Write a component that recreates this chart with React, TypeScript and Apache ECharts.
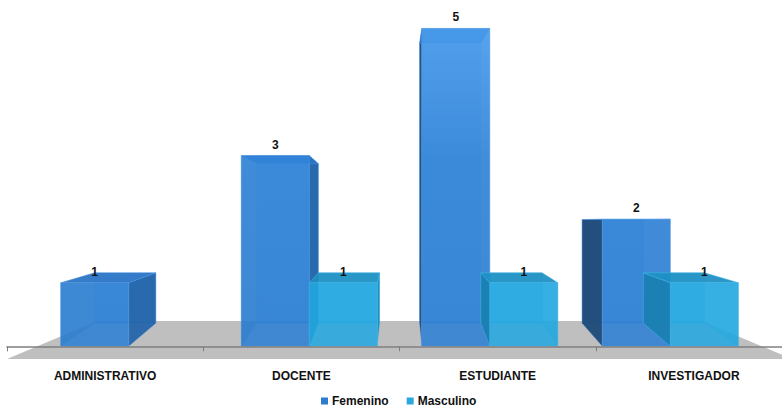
import React, { useEffect, useRef } from "react";
import * as echarts from "echarts";

const categories = ["ADMINISTRATIVO", "DOCENTE", "ESTUDIANTE", "INVESTIGADOR"];
const femenino = [1, 3, 5, 2];
const masculino = [0, 1, 1, 1];
const seriesNames = ["Femenino", "Masculino"];

const FONT = '"Liberation Sans", Arial, sans-serif';
const VX = 400; // horizontal vanishing x (pixels)

const femColors = {
  legend: "#2e7bcc",
  back: "#2a74c4",
  right: "#2465aa",
  left: "#1e4a78",
  top: "#2a74c6",
  edge: "rgba(90,160,235,0.7)",
};
const mascColors = {
  legend: "#2aa7df",
  back: "#1e9ad0",
  right: "#1b8bbd",
  left: "#1a7fb2",
  top: "#1e90c3",
  edge: "rgba(80,190,240,0.7)",
};

function dyf(h: number) {
  return -23 + 0.2277 * h - 0.00034 * h * h;
}

function makeRender(side: number, colors: any, frontFill: any) {
  return function (params: any, api: any) {
    const idx = api.value(0);
    const v = api.value(1);
    if (!v) return { type: "group", children: [] };
    const base = api.coord([idx, 0]);
    const topP = api.coord([idx, v]);
    const band = api.size([1, 0])[0];
    const w = band * 0.377;
    const cx = base[0];
    const nx0 = side === 0 ? cx - w : cx;
    const nx1 = nx0 + w;
    const sx = (x: number) => x + 0.08 * (VX - x);
    const x0 = sx(nx0);
    const x1 = sx(nx1);
    const yb = base[1];
    const yt = topP[1];
    const bp = (x: number, y: number) => [x + 0.1 * (VX - x), y + dyf(yb - y)];
    const FTL = [x0, yt], FTR = [x1, yt], FBR = [x1, yb], FBL = [x0, yb];
    const BTL = bp(x0, yt), BTR = bp(x1, yt), BBR = bp(x1, yb), BBL = bp(x0, yb);
    const edge = { stroke: colors.edge, lineWidth: 0.6 };
    const leftVisible = BTL[0] < x0;
    const rightVisible = BTR[0] > x1;
    const children: any[] = [
      { type: "polygon", shape: { points: [BTL, BTR, BBR, BBL] }, style: { fill: colors.back, opacity: 0.55, ...edge } },
      { type: "polygon", shape: { points: [FTL, BTL, BBL, FBL] }, style: { fill: colors.left, opacity: leftVisible ? 0.95 : 0.35, ...edge } },
      { type: "polygon", shape: { points: [FTR, BTR, BBR, FBR] }, style: { fill: colors.right, opacity: rightVisible ? 0.95 : 0.35, ...edge } },
      { type: "polygon", shape: { points: [FTL, FTR, BTR, BTL] }, style: { fill: colors.top, opacity: 0.9, ...edge } },
      { type: "rect", shape: { x: x0, y: yt, width: x1 - x0, height: yb - yt }, style: { fill: frontFill, opacity: 0.86, ...edge } },
      {
        type: "text",
        style: {
          text: String(v),
          x: (x0 + x1) / 2,
          y: yt - 11,
          align: "center",
          verticalAlign: "middle",
          fontFamily: FONT,
          fontWeight: "bold",
          fontSize: 12,
          fill: "#111",
        },
      },
    ];
    return { type: "group", children };
  };
}

function renderFloor(params: any, api: any) {
  const cs = params.coordSys;
  const left = cs.x;
  const right = cs.x + cs.width;
  const fy = cs.y + cs.height;
  const by = fy - 38;
  const c = 0.23;
  const pts = [
    [left, fy],
    [right, fy],
    [right + c * (VX - right), by],
    [left + c * (VX - left), by],
  ];
  return { type: "polygon", shape: { points: pts }, style: { fill: "#bfbfbf" } };
}

export default function App() {
  const ref = useRef<HTMLDivElement>(null);
  useEffect(() => {
    if (!ref.current) return;
    document.body.style.margin = "0";
    const chart = echarts.init(ref.current, null, { renderer: "svg" });
    const femFront = new echarts.graphic.LinearGradient(0, 0, 0, 359, [
      { offset: 0, color: "#4ea2f2" },
      { offset: 0.45, color: "#2e83d9" },
      { offset: 1, color: "#2a7ed3" },
    ], true);
    const option: any = {
      animation: false,
      textStyle: { fontFamily: FONT },
      grid: { left: 7, width: 785, top: 3, height: 356 },
      legend: {
        data: seriesNames,
        left: 316,
        top: 390,
        icon: "rect",
        itemWidth: 7,
        itemHeight: 7,
        itemGap: 18,
        textStyle: { fontFamily: FONT, fontWeight: "bold", fontSize: 12, color: "#111", padding: [0, 0, 0, -1] },
      },
      xAxis: {
        type: "category",
        data: categories,
        boundaryGap: true,
        axisLine: { show: true, lineStyle: { color: "#7f7f7f", width: 1.5 } },
        axisTick: { show: true, alignWithLabel: false, length: 5, lineStyle: { color: "#7f7f7f" } },
        axisLabel: { fontFamily: FONT, fontWeight: "bold", fontSize: 12, color: "#111", margin: 11 },
        splitLine: { show: false },
        z: 5,
      },
      yAxis: { type: "value", min: -0.2, max: 5.4, show: false, splitLine: { show: false } },
      series: [
        {
          type: "custom",
          name: "floor",
          renderItem: renderFloor,
          data: [[0, 0]],
          encode: { x: 0, y: 1 },
          silent: true,
          z: 1,
        },
        {
          type: "custom",
          name: seriesNames[0],
          renderItem: makeRender(0, femColors, femFront),
          data: femenino.map((v, i) => [i, v]),
          encode: { x: 0, y: 1 },
          itemStyle: { color: femColors.legend },
          z: 2,
        },
        {
          type: "custom",
          name: seriesNames[1],
          renderItem: makeRender(1, mascColors, "#22a8e1"),
          data: masculino.map((v, i) => [i, v]),
          encode: { x: 0, y: 1 },
          itemStyle: { color: mascColors.legend },
          z: 3,
        },
      ],
    };
    chart.setOption(option);
    return () => chart.dispose();
  }, []);
  return (
    <div style={{ width: 782, height: 408, overflow: "hidden", position: "relative" }}>
      <div ref={ref} style={{ width: 800, height: 408 }} />
    </div>
  );
}
